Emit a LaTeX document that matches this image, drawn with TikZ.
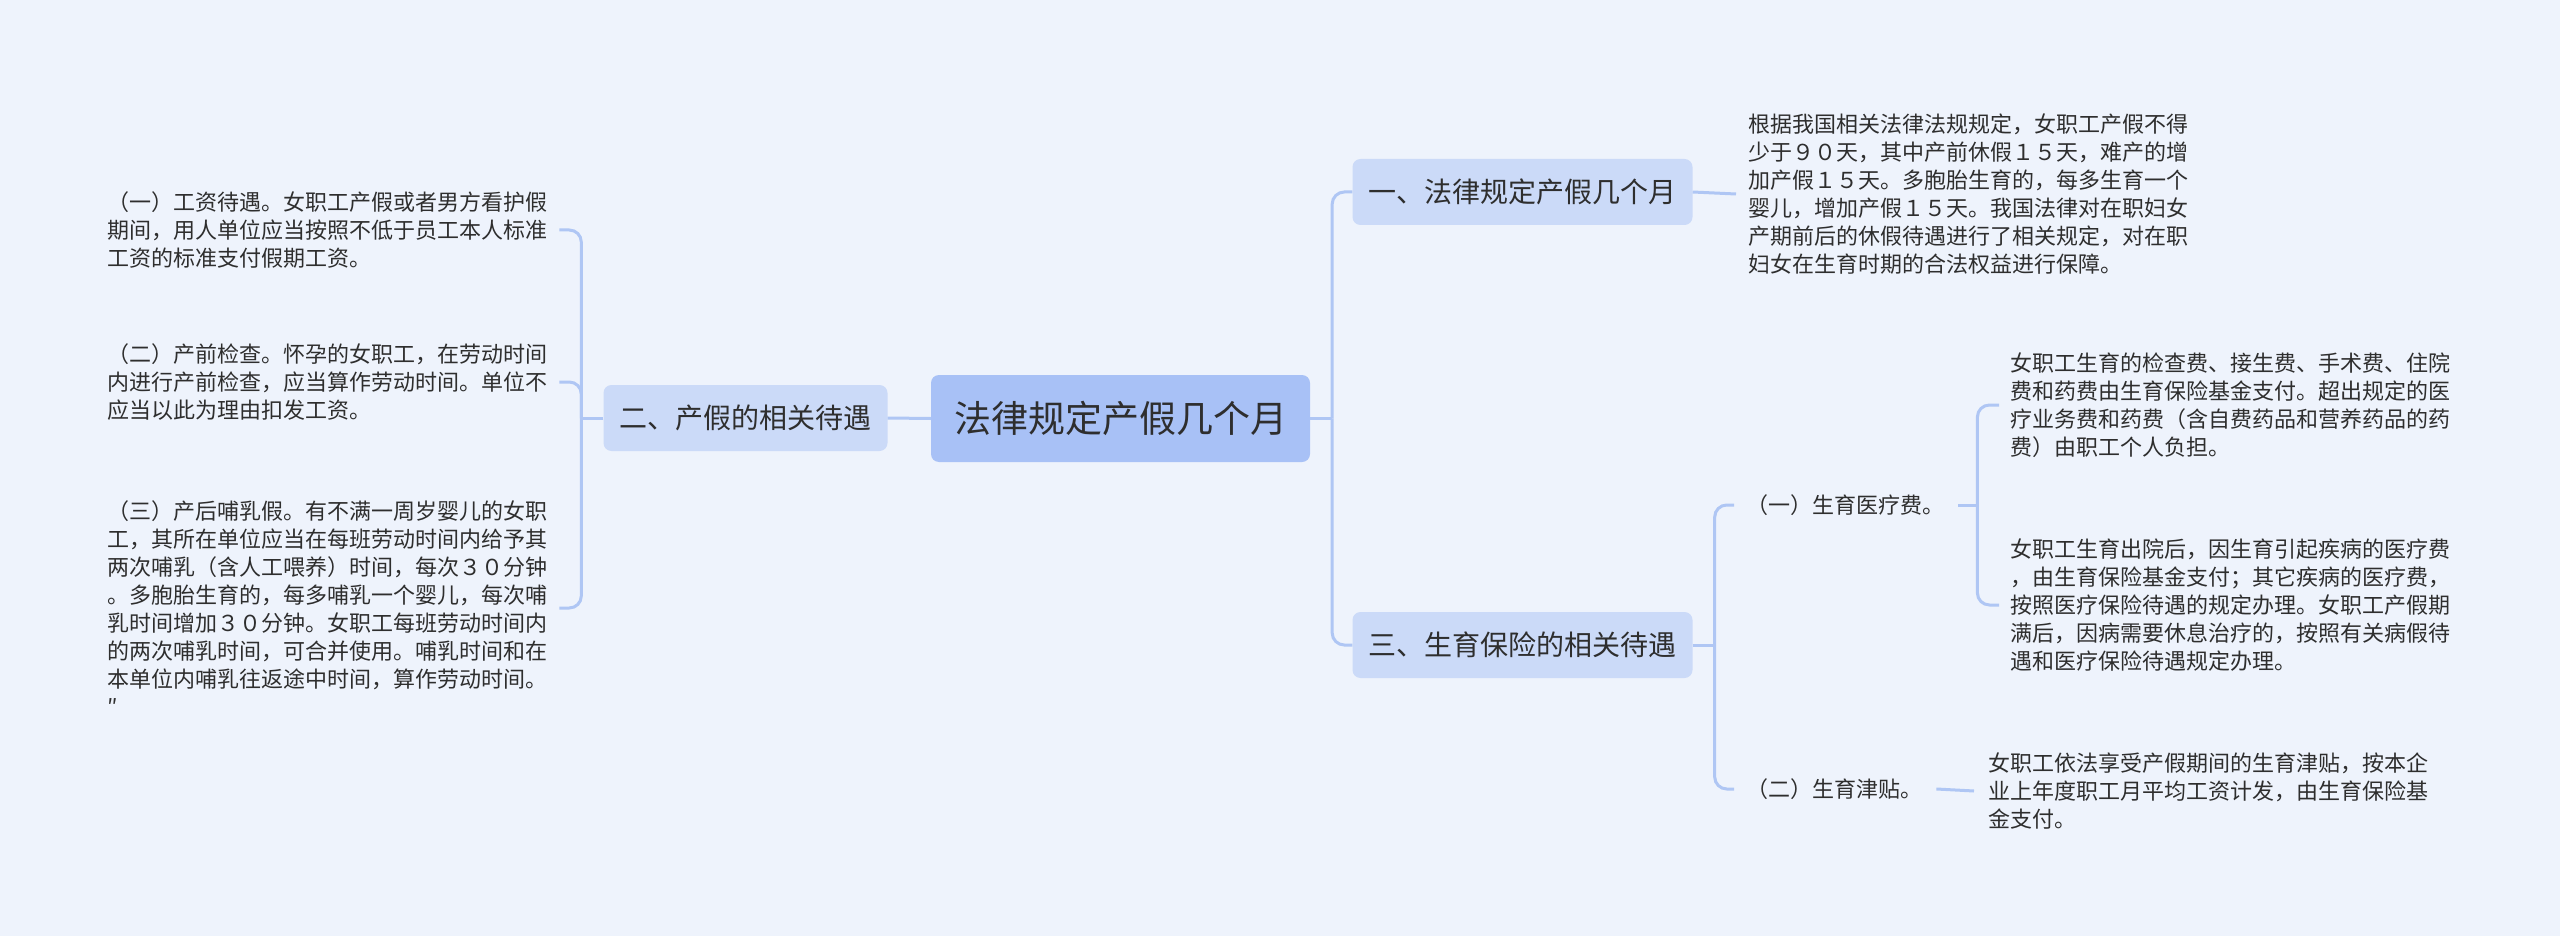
\documentclass[tikz,border=0pt]{standalone}
\usepackage{fontspec}
\usepackage{tikz}
\setmainfont{Noto Sans CJK SC}
\usetikzlibrary{positioning}

\definecolor{bgblue}{HTML}{EEF3FC}
\definecolor{rootblue}{HTML}{A8C1F6}
\definecolor{subblue}{HTML}{CBDAF8}
\definecolor{linkblue}{HTML}{AFC6F4}
\definecolor{inkgray}{HTML}{2E2E2E}

\begin{document}
\begin{tikzpicture}[
    x=1pt, y=-1pt,
    root/.style={rectangle, rounded corners=8pt, fill=rootblue, text=inkgray, inner xsep=23pt, minimum height=87pt, font=\fontsize{37}{44}\selectfont},
    topic/.style={rectangle, rounded corners=8pt, fill=subblue, text=inkgray, inner xsep=16pt, minimum height=66pt, font=\fontsize{28}{34}\selectfont},
    leaf/.style={anchor=west, inner sep=0pt, align=left, text=inkgray, font=\fontsize{22}{28}\selectfont},
    link/.style={draw=linkblue, line width=3pt, rounded corners=12pt}
]
    % Canvas
    \fill[bgblue] (0,0) rectangle (2560,936);
    \useasboundingbox (0,0) rectangle (2560,936);

    % Root
    \node[root] (root) at (1120.5,418.5) {法律规定产假几个月};

    % Topics
    \node[topic] (treat) at (745.5,418) {二、产假的相关待遇};
    \node[topic] (law) at (1522.5,192) {一、法律规定产假几个月};
    \node[topic] (ins) at (1522.5,645) {三、生育保险的相关待遇};

    % Left leaves
    \node[leaf] (wage) at (107,230) {（一）工资待遇。女职工产假或者男方看护假\\期间，用人单位应当按照不低于员工本人标准\\工资的标准支付假期工资。};
    \node[leaf] (check) at (107,382) {（二）产前检查。怀孕的女职工，在劳动时间\\内进行产前检查，应当算作劳动时间。单位不\\应当以此为理由扣发工资。};
    \node[leaf] (nurse) at (107,608) {（三）产后哺乳假。有不满一周岁婴儿的女职\\工，其所在单位应当在每班劳动时间内给予其\\两次哺乳（含人工喂养）时间，每次３０分钟\\。多胞胎生育的，每多哺乳一个婴儿，每次哺\\乳时间增加３０分钟。女职工每班劳动时间内\\的两次哺乳时间，可合并使用。哺乳时间和在\\本单位内哺乳往返途中时间，算作劳动时间。\\″};

    % Right leaves
    \node[leaf] (lawtext) at (1748,194) {根据我国相关法律法规规定，女职工产假不得\\少于９０天，其中产前休假１５天，难产的增\\加产假１５天。多胞胎生育的，每多生育一个\\婴儿，增加产假１５天。我国法律对在职妇女\\产期前后的休假待遇进行了相关规定，对在职\\妇女在生育时期的合法权益进行保障。};
    \node[leaf] (med) at (1746,505) {（一）生育医疗费。};
    \node[leaf] (allow) at (1746,789) {（二）生育津贴。};
    \node[leaf] (feeA) at (2010,405) {女职工生育的检查费、接生费、手术费、住院\\费和药费由生育保险基金支付。超出规定的医\\疗业务费和药费（含自费药品和营养药品的药\\费）由职工个人负担。};
    \node[leaf] (feeB) at (2010,605) {女职工生育出院后，因生育引起疾病的医疗费\\，由生育保险基金支付；其它疾病的医疗费，\\按照医疗保险待遇的规定办理。女职工产假期\\满后，因病需要休息治疗的，按照有关病假待\\遇和医疗保险待遇规定办理。};
    \node[leaf] (pay) at (1988,791) {女职工依法享受产假期间的生育津贴，按本企\\业上年度职工月平均工资计发，由生育保险基\\金支付。};

    % Links
    \draw[link] (root.west) -- (treat.east);
    \draw[link] (root.east) -- ++(22,0) coordinate (rootfork);
    \draw[link] (rootfork) |- (law.west);
    \draw[link] (rootfork) |- (ins.west);
    \draw[link] (treat.west) -- ++(-22,0) coordinate (treatfork);
    \draw[link] (treatfork) |- ([xshift=12pt]wage.east);
    \draw[link] (treatfork) |- ([xshift=12pt]check.east);
    \draw[link] (treatfork) |- ([xshift=12pt]nurse.east);
    \draw[link] (law.east) -- ([xshift=-12pt]lawtext.west);
    \draw[link] (ins.east) -- ++(22,0) coordinate (insfork);
    \draw[link] (insfork) |- ([xshift=-12pt]med.west);
    \draw[link] (insfork) |- ([xshift=-12pt]allow.west);
    \draw[link] ([xshift=14pt]med.east) -- ++(19,0) coordinate (medfork);
    \draw[link] (medfork) |- ([xshift=-11pt]feeA.west);
    \draw[link] (medfork) |- ([xshift=-11pt]feeB.west);
    \draw[link] ([xshift=14pt]allow.east) -- ([xshift=-14pt]pay.west);
\end{tikzpicture}
\end{document}
